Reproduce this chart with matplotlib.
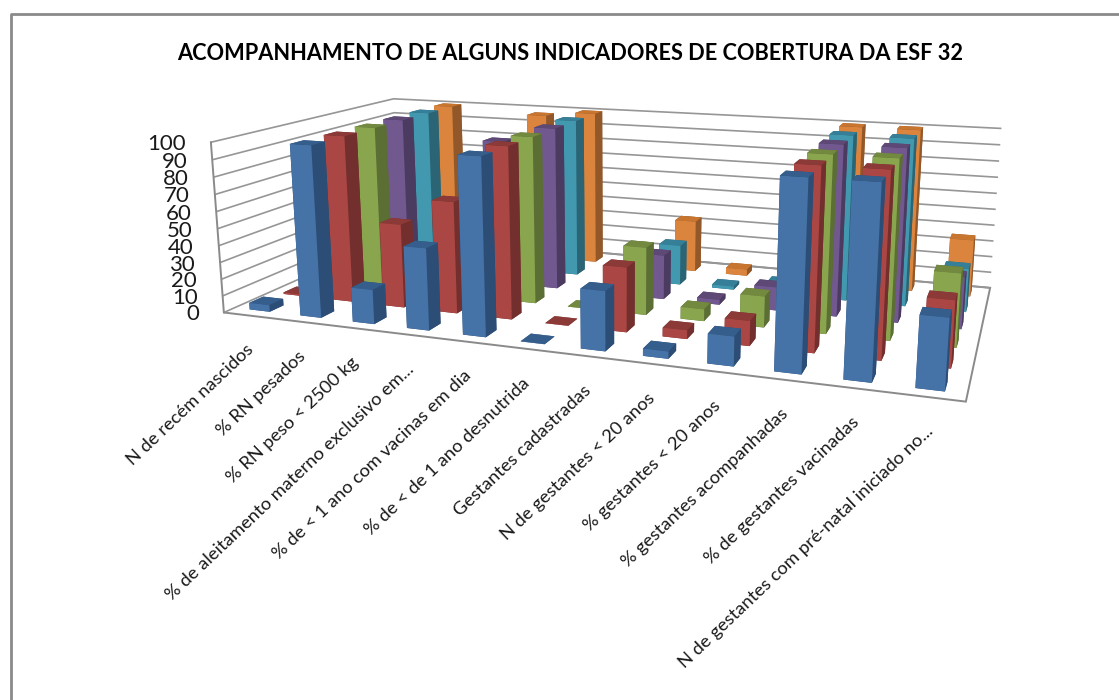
import numpy as np
import matplotlib
matplotlib.use('Agg')
import matplotlib.pyplot as plt
from matplotlib.lines import Line2D
from matplotlib.transforms import offset_copy
from mpl_toolkits.mplot3d import proj3d

plt.rcParams['font.family'] = ['Lato', 'DejaVu Sans']
plt.rcParams['grid.color'] = '#969696'
plt.rcParams['grid.linewidth'] = 1.2

categories = ['N de recém nascidos', '% RN pesados', '% RN peso < 2500 kg',
              '% de aleitamento materno exclusivo em...', '% de < 1 ano com vacinas em dia',
              '% de < de 1 ano desnutrida', 'Gestantes cadastradas', 'N de gestantes < 20 anos',
              '% gestantes < 20 anos', '% gestantes acompanhadas', '% de gestantes vacinadas',
              'N de gestantes com pré-natal iniciado no...']
nan = np.nan
s1 = [4, 100, 20, 47, 100, 0.2, 33, 4, 16, 100, 100, 37]
s2 = [1, 100, 50, 66, 100, 0.2, 37, 5, 14, 100, 100, 36]
s3 = [nan, 100, nan, 80, 100, 0.2, 40, 7, 18, 100, 100, 41]
s4 = [nan, 100, nan, 90, 100, nan, 27, 3, 14, 100, 100, 30]
s5 = [nan, 100, nan, 70, 100, nan, 25, 2, 7, 100, 100, 26]
s6 = [nan, 100, nan, 97, 100, nan, 33, 4, nan, 100, 100, 35]
series = [s1, s2, s3, s4, s5, s6]
front_colors = ['#4572A7', '#AA4643', '#89A54E', '#71588F', '#4198AF', '#DB843D']
side_colors = ['#2C4D75', '#722F2D', '#5B6E34', '#4B3B60', '#2B6575', '#935829']
top_colors = ['#355E8D', '#8C3A38', '#72893F', '#5E4976', '#358098', '#C87530']
z_ticks = list(range(0, 101, 10))

W, H = 1119, 700
fig = plt.figure(figsize=(W / 100, H / 100), dpi=100)
# camera fitted to the corners of the reference
ax = fig.add_axes([42.4 / W, -96.4 / H, 1125 / W, 1125 / H], projection='3d', computed_zorder=False)
ax.set_xlim(0, 12, view_margin=0)
ax.set_ylim(0, 6, view_margin=0)
ax.set_zlim(0, 100, view_margin=0)
ax.set_proj_type('persp', focal_length=0.2)
ax.view_init(elev=12.943, azim=-70.399)
ax.set_box_aspect((np.exp(0.7196), 1, np.exp(-0.7068)), zoom=np.exp(1.239) * 0.2)

ax.xaxis.set_pane_color((1, 1, 1, 1))
ax.yaxis.set_pane_color((1, 1, 1, 1))
ax.zaxis.set_pane_color((1, 1, 1, 1))
for a in (ax.xaxis, ax.yaxis):
    a.pane.set_edgecolor((1, 1, 1, 0))
ax.zaxis.pane.set_edgecolor('#8a8a8a')
ax.zaxis.pane.set_linewidth(1.4)
for a in (ax.xaxis, ax.yaxis, ax.zaxis):
    a.line.set_color((0, 0, 0, 0))
ax.set_xticks([])
ax.set_yticks([])
ax.set_zticks(z_ticks)
ax.set_zticklabels([])
ax.zaxis._axinfo['tick']['inward_factor'] = 0
ax.zaxis._axinfo['tick']['outward_factor'] = 0
# front edge of the left wall
ax.plot([0, 0], [0, 0], [0, 100], color='#8a8a8a', lw=1.4, zorder=1, clip_on=False)

order = 0
for j in range(5, -1, -1):
    for i in range(12):
        v = series[j][i]
        if np.isnan(v):
            continue
        face_list = [side_colors[j], top_colors[j], front_colors[j], side_colors[j], side_colors[j], side_colors[j]]
        ax.bar3d(i + 0.3, j + 0.3, 0, 0.4, 0.4, v, color=face_list, shade=False, zorder=10 + order,
                 linewidth=0, clip_on=False)
        order += 1

M = ax.get_proj()
for i, lab in enumerate(categories):
    xv, yv, _ = proj3d.proj_transform(i + 0.5, 0, 0, M)
    ax.text2D(xv, yv, lab, fontsize=13.25, rotation=43.5, ha='right', va='top', rotation_mode='anchor', color='#1a1a1a',
              transform=offset_copy(ax.transData, fig=fig, x=-3, y=-26, units='dots'))
for v in z_ticks:
    xv, yv, _ = proj3d.proj_transform(0, 0, v, M)
    ax.text2D(xv, yv, str(v), fontsize=16, ha='right', va='center', color='#1a1a1a',
              transform=offset_copy(ax.transData, fig=fig, x=-25, y=-2, units='dots'))

fig.text(570 / W, 1 - 54 / H, 'ACOMPANHAMENTO DE ALGUNS INDICADORES DE COBERTURA DA ESF 32',
         fontsize=15.7, fontweight='bold', ha='center', va='center', color='black')
fig.add_artist(Line2D([10.5 / W, 10.5 / W, 1], [0, 1 - 13.5 / H, 1 - 13.5 / H], transform=fig.transFigure,
                      color='#8a8a8a', linewidth=2))
fig.savefig('out.png', dpi=100)
